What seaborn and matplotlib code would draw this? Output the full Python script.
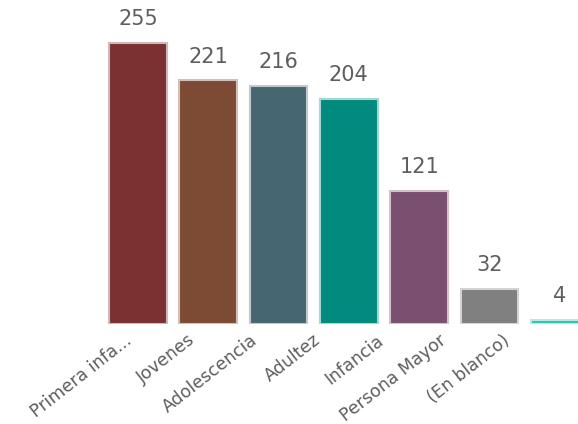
import numpy as np
import pandas as pd
import matplotlib
matplotlib.use("Agg")
import matplotlib.pyplot as plt
import matplotlib.colors as mcolors
import seaborn as sns

categories = ["Primera infa...", "Jovenes", "Adolescencia", "Adultez",
              "Infancia", "Persona Mayor", "(En blanco)"]
values = [255, 221, 216, 204, 121, 32, 4]
colors = ["#7B3131", "#7D4B33", "#466672", "#018A7E",
          "#7B4F70", "#808080", "#2BC4B4"]


def lighten(c, amt=0.65):
    r, g, b = mcolors.to_rgb(c)
    return (r + (1 - r) * amt, g + (1 - g) * amt, b + (1 - b) * amt)


def main():
    sns.set_style("white")
    plt.rcParams['font.family'] = ['DejaVu Sans']
    df = pd.DataFrame({"cat": categories, "val": values})

    fig = plt.figure(figsize=(5.78, 4.24), dpi=100)
    ax = fig.add_axes([0.0, 0.236, 1.0, 0.764])
    sns.barplot(data=df, x="cat", y="val", hue="cat", palette=colors,
                saturation=1, legend=False, width=0.82, ax=ax)

    for patch, c in zip(ax.patches, colors):
        patch.set_edgecolor(lighten(c))
        patch.set_linewidth(1.5)

    ax.set_xlim(-0.5 - 102.8 / 70.3, 6.26)
    ax.set_ylim(0, 294)

    for i, v in enumerate(values):
        ax.annotate(str(v), (i, v), xytext=(0, 10), textcoords="offset points",
                    ha="center", va="bottom", fontsize=15, color="#605E5C")

    ax.set_yticks([])
    ax.set_xticks([])
    ax.set_xlabel("")
    ax.set_ylabel("")
    sns.despine(ax=ax, left=True, bottom=True)

    # category labels sit a bit tighter than the bars, as in the reference
    W, H = 578, 424
    for i, name in enumerate(categories):
        fig.text((124 + 63 * i) / W, 1 - 331 / H, name, rotation=38,
                 ha="right", va="top", rotation_mode="anchor",
                 fontsize=12.5, color="#605E5C")

    fig.savefig("out.png", dpi=100)


if __name__ == '__main__':
    main()
